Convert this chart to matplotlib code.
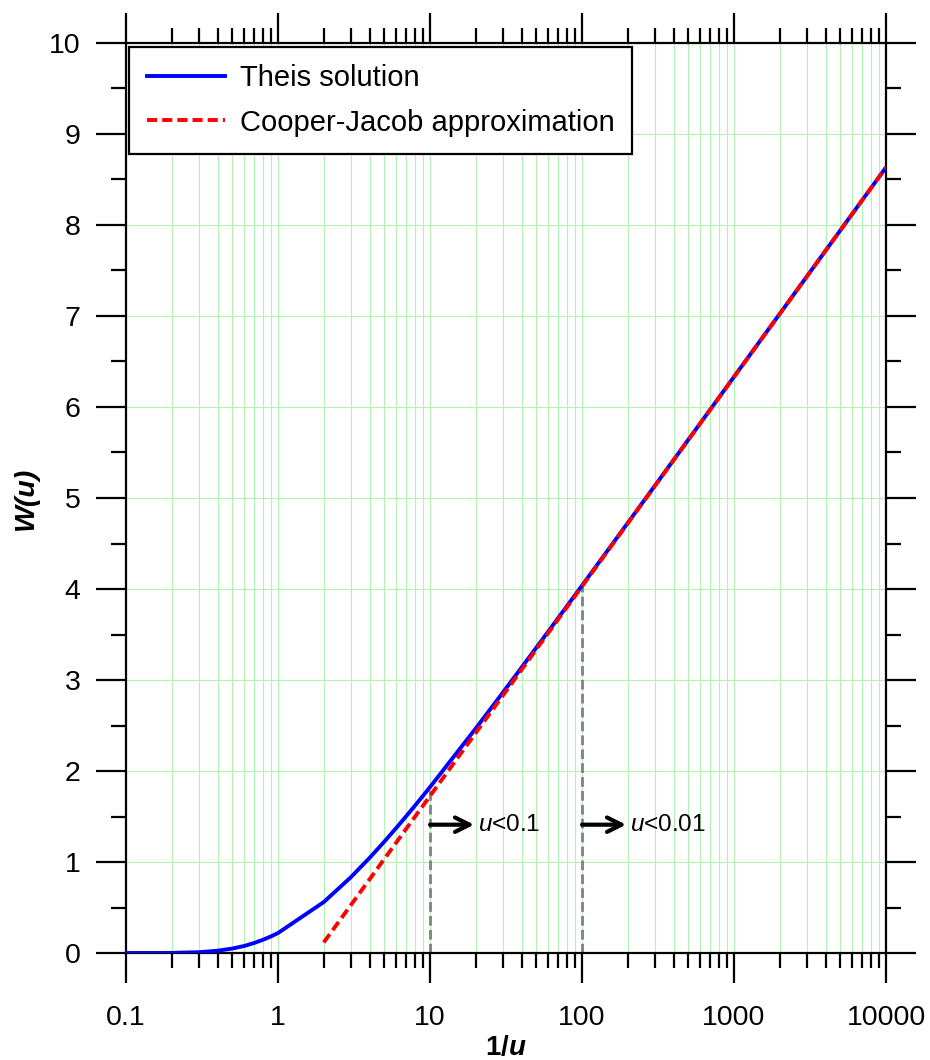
import matplotlib
matplotlib.use("Agg")
import matplotlib.pyplot as plt
from matplotlib.ticker import LogLocator, FixedLocator, NullFormatter, MultipleLocator

plt.rcParams['font.family'] = ['Liberation Sans', 'DejaVu Sans']
plt.rcParams['mathtext.fontset'] = 'custom'
plt.rcParams['mathtext.rm'] = 'Liberation Sans'
plt.rcParams['mathtext.it'] = 'Liberation Sans:italic'
plt.rcParams['mathtext.bf'] = 'Liberation Sans:bold'
plt.rcParams['mathtext.bfit'] = 'Liberation Sans:bold:italic'

# Theis well function W(u) read along 1/u
theis_inv_u = [0.1, 0.2, 0.3, 0.4, 0.5, 0.6, 0.7, 0.8, 0.9,
               1, 2, 3, 4, 5, 6, 7, 8, 9,
               10, 20, 30, 40, 50, 60, 70, 80, 90,
               100, 200, 300, 400, 500, 600, 700, 800, 900,
               1000, 2000, 3000, 4000, 5000, 6000, 7000, 8000, 9000, 10000]
theis_w = [0.0, 0.0011, 0.0086, 0.0249, 0.0489, 0.0773, 0.1113, 0.1464, 0.1829,
           0.2194, 0.5598, 0.8292, 1.0443, 1.2227, 1.3745, 1.5066, 1.6234, 1.7281,
           1.8229, 2.4679, 2.8570, 3.1365, 3.3547, 3.5337, 3.6855, 3.8173, 3.9337,
           4.0379, 4.7261, 5.1299, 5.4167, 5.6394, 5.8214, 5.9753, 6.1086, 6.2263,
           6.3315, 7.0242, 7.4295, 7.7171, 7.9402, 8.1225, 8.2766, 8.4101, 8.5279, 8.6332]

# Cooper-Jacob approximation
cj_inv_u = [2, 3, 4, 5, 6, 7, 8, 9, 10, 100, 1000, 10000]
cj_w = [0.1159, 0.5214, 0.8091, 1.0322, 1.2145, 1.3687, 1.5022, 1.6200,
        1.7254, 4.0280, 6.3305, 8.6331]

# validity markers
limit_x = [10, 100]
limit_top = [1.8229, 4.0379]
limit_labels = [r'$\mathit{u}$<0.1', r'$\mathit{u}$<0.01']
arrow_y = 1.41

xtick_vals = [0.1, 1, 10, 100, 1000, 10000]
xtick_labels = ['0.1', '1', '10', '100', '1000', '10000']

fig = plt.figure(figsize=(9.3, 10.6), dpi=100)
ax = fig.add_axes([126 / 930, 107 / 1060, 760 / 930, 910 / 1060])

ax.plot(theis_inv_u, theis_w, color='#0000ff', lw=2.8, label='Theis solution', zorder=3)
ax.plot(cj_inv_u, cj_w, color='#ff0000', lw=2.8, ls=(0, (2.6, 1.3)),
        label='Cooper-Jacob approximation', zorder=4)

for xv, top, lab in zip(limit_x, limit_top, limit_labels):
    ax.plot([xv, xv], [0, top], color='#808080', lw=2.0, ls=(0, (3.5, 1.5)), zorder=2)
    ax.annotate('', xy=(xv * 1.95, arrow_y), xytext=(xv, arrow_y),
                arrowprops=dict(arrowstyle='->', lw=3.0, color='black',
                                shrinkA=0, shrinkB=0, mutation_scale=26))
    ax.text(xv * 2.07, arrow_y, lab, va='center', ha='left', fontsize=17.5)

ax.set_xscale('log')
ax.set_xlim(0.1, 10000)
ax.set_ylim(0, 10)
ax.xaxis.set_major_locator(FixedLocator(xtick_vals))
ax.set_xticklabels(xtick_labels)
ax.xaxis.set_minor_locator(LogLocator(base=10, subs=range(2, 10), numticks=20))
ax.xaxis.set_minor_formatter(NullFormatter())
ax.yaxis.set_major_locator(MultipleLocator(1))
ax.yaxis.set_minor_locator(MultipleLocator(0.5))

ax.tick_params(which='both', direction='out', top=True, right=True,
               width=1.6, color='black', labelsize=20.5)
ax.tick_params(which='major', length=21.6)
ax.tick_params(which='minor', length=10.8)
ax.tick_params(axis='x', which='major', pad=16)
ax.tick_params(axis='y', which='major', pad=11)
for s in ax.spines.values():
    s.set_linewidth(1.6)

ax.set_axisbelow(True)
ax.grid(which='both', axis='x', color='#b4f2b4', lw=0.8)
ax.grid(which='major', axis='y', color='#b4f2b4', lw=0.8)

# x label placed by its baseline near the bottom edge
fig.text(506 / 930, 5 / 1060, r'$\mathbf{1/}\mathbfit{u}$', fontsize=20,
         ha='center', va='baseline')
ax.set_ylabel('W(u)', fontsize=20.5, fontweight='bold', fontstyle='italic', labelpad=7)

leg = ax.legend(loc='upper left', bbox_to_anchor=(3 / 760, 1 - 4 / 910), borderaxespad=0,
                fancybox=False, edgecolor='black', framealpha=1, fontsize=21,
                handlelength=2.7, handletextpad=0.5, labelspacing=0.55, borderpad=0.6)
leg.get_frame().set_linewidth(1.6)

fig.savefig('out.png', dpi=100)
